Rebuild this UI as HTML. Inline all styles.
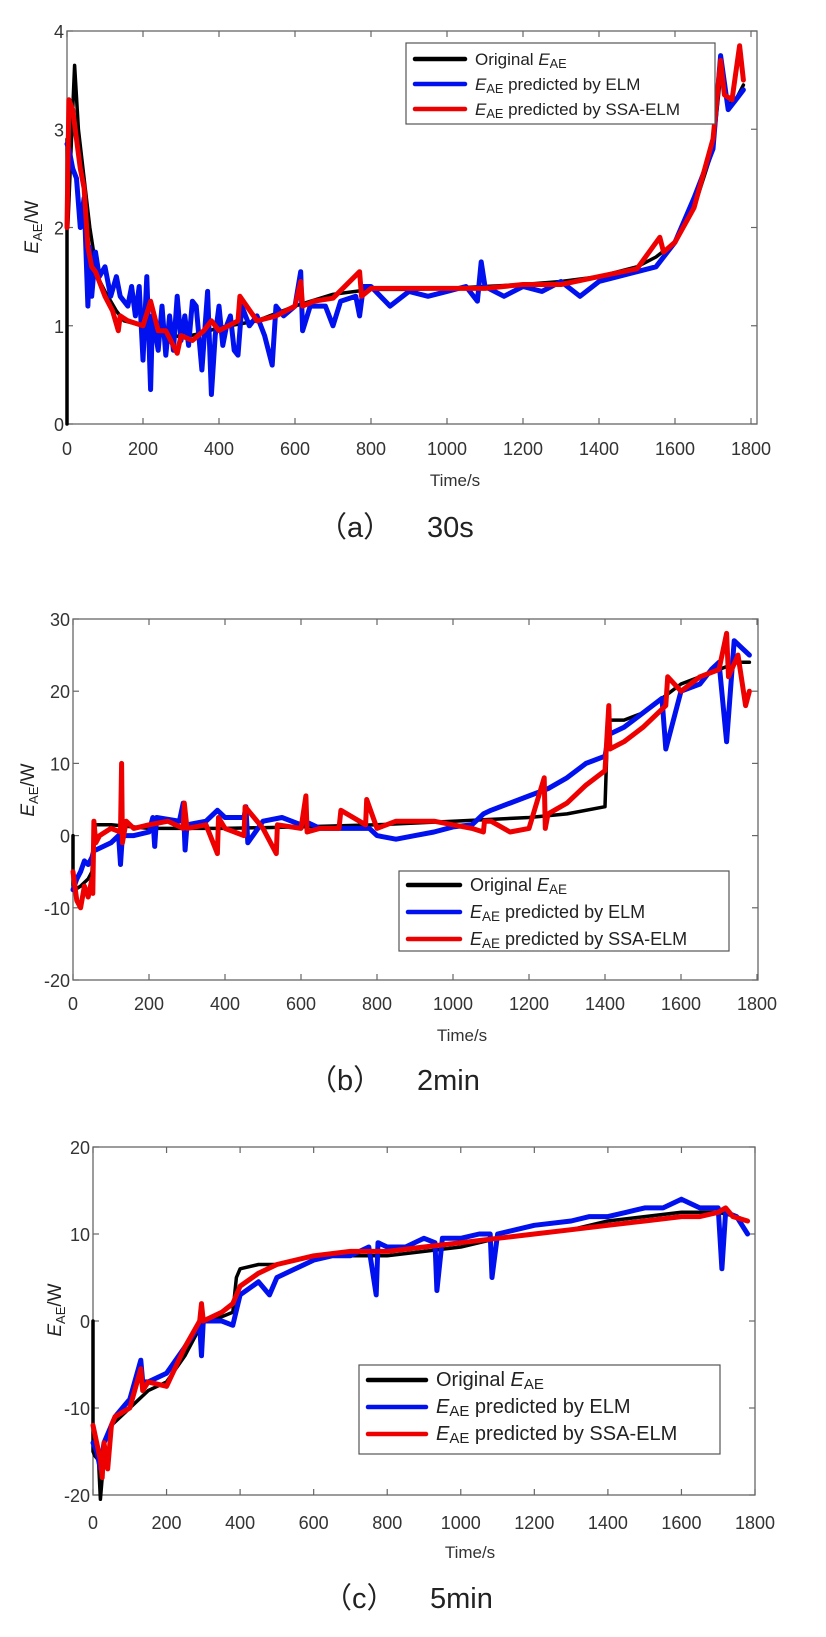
<!DOCTYPE html>
<html><head><meta charset="utf-8"><style>
html,body{margin:0;padding:0;background:#fff;}
svg{display:block;font-family:"Liberation Sans",Arial,sans-serif;}
.tk{font-size:18px;fill:#333;}
.cap{font-family:"Liberation Sans","Noto Sans CJK SC",sans-serif;font-size:29px;fill:#222;}
</style></head><body>
<svg id="root" width="826" height="1637" viewBox="0 0 826 1637" xmlns="http://www.w3.org/2000/svg"></svg>
<script>
// ---------- Chart A (30s) ----------
const xTicks = [0,200,400,600,800,1000,1200,1400,1600,1800];
const yTicksA = [0,1,2,3,4];
const tBlackA = [0,0,2,20,30,45,60,80,100,130,150,200,250,300,350,400,500,600,700,800,900,1000,1100,1200,1300,1400,1500,1550,1600,1650,1700,1720,1740,1760,1780];
const vBlackA = [0,2.9,2.0,3.65,3.0,2.5,2.0,1.5,1.35,1.15,1.05,1.0,0.95,0.88,0.92,0.98,1.05,1.2,1.32,1.37,1.37,1.38,1.4,1.42,1.45,1.5,1.6,1.7,1.85,2.2,2.8,3.55,3.25,3.3,3.45];
const tBlueA = [0,5,15,25,35,45,55,60,65,75,85,100,115,130,140,160,170,180,190,200,210,220,225,240,250,260,270,280,290,300,310,320,330,340,355,370,380,390,400,410,420,430,440,450,460,480,500,520,540,550,570,600,615,620,640,680,700,720,760,770,780,800,850,900,950,1000,1050,1080,1090,1100,1150,1200,1250,1300,1350,1400,1450,1500,1550,1600,1650,1700,1720,1740,1760,1780];
const vBlueA = [2.85,2.8,2.6,2.5,2.0,2.3,1.2,1.8,1.3,1.75,1.5,1.6,1.3,1.5,1.3,1.2,1.4,1.1,1.4,0.65,1.5,0.35,1.1,0.75,1.2,0.7,1.1,0.75,1.3,0.85,1.1,0.8,1.25,1.2,0.55,1.35,0.3,0.9,1.2,0.8,1.0,1.1,0.75,0.7,1.2,1.0,1.1,0.9,0.6,1.2,1.1,1.2,1.55,0.95,1.2,1.2,1.0,1.25,1.3,1.1,1.4,1.4,1.2,1.35,1.3,1.35,1.4,1.25,1.65,1.4,1.3,1.4,1.35,1.45,1.3,1.45,1.5,1.55,1.6,1.85,2.3,2.8,3.75,3.2,3.3,3.4];
const tRedA = [0,5,15,25,35,45,55,65,75,90,100,120,135,140,160,200,220,240,260,290,300,330,360,380,400,450,455,500,550,600,615,620,650,700,770,775,800,900,1000,1100,1200,1300,1400,1500,1560,1570,1600,1650,1700,1720,1730,1750,1770,1780];
const vRedA = [2.0,3.3,3.2,2.9,2.6,2.4,1.8,1.6,1.55,1.4,1.3,1.15,0.95,1.1,1.05,1.0,1.25,0.95,0.95,0.72,0.9,0.85,0.95,1.05,0.95,1.05,1.3,1.05,1.1,1.2,1.45,1.2,1.25,1.28,1.55,1.3,1.38,1.38,1.38,1.38,1.42,1.42,1.5,1.58,1.9,1.75,1.85,2.2,2.9,3.7,3.35,3.3,3.85,3.5];
// ---------- Chart B (2min) ----------
const yTicksB = [-20,-10,0,10,20,30];
const tBlackB = [0,0,5,20,40,50,55,60,70,100,200,300,400,600,800,1000,1200,1300,1400,1405,1410,1450,1500,1550,1600,1650,1700,1750,1780];
const vBlackB = [0,-7,-7.5,-7,-6,-5,1,1.5,1.5,1.5,1,1,1,1.2,1.5,2,2.5,3,4,12,16,16,17,19,21,22,23,24,24];
const tBlueB = [0,10,20,30,40,50,55,60,80,100,120,125,130,140,160,200,210,215,220,280,290,295,300,350,380,400,450,455,460,500,550,600,610,650,700,780,800,850,900,950,1000,1050,1080,1100,1150,1200,1250,1300,1350,1400,1410,1450,1500,1550,1560,1600,1650,1680,1700,1720,1740,1760,1780];
const vBlueB = [-7.5,-6,-5,-3.5,-4,-3,-2,-2,-1.5,-1,0,-4,0,0,0,0.5,2.5,-1.5,2.5,2,4.5,-2,1.5,2,3.5,2.5,2.5,4,-1,2,2.5,1.5,2,1,1,1,0,-0.5,0,0.5,1.2,1.5,3,3.5,4.5,5.5,6.5,8,10,11,14,15,17,19,12,20,21,23,24,13,27,26,25];
const tRedB = [0,10,20,30,40,50,52,55,60,70,100,125,128,130,140,160,200,250,290,293,300,350,380,383,400,450,453,500,535,538,600,613,616,650,700,705,770,773,800,850,900,950,1000,1050,1080,1083,1100,1150,1200,1240,1243,1250,1300,1350,1400,1410,1413,1450,1500,1560,1565,1600,1650,1700,1720,1725,1750,1770,1780];
const vRedB = [-5,-9,-10,-7,-8.5,-6,-8,2,-1,0,1,0.5,10,-1,2,1,1.5,2,1,4.5,1,1.5,-2.5,2.5,1,0,4,1,-2.5,1.5,1,5.5,0.5,1,1,3.5,1.5,5,1,2,2,2,1.5,1,0.5,2,2,0.5,1,8,1,3,4.5,7,9,18,12,13,15,18,22,20,22,23,28,22,25,18,20];
// ---------- Chart C (5min) ----------
const yTicksC = [-20,-10,0,10,20];
const tBlackC = [0,0,5,15,20,25,30,50,100,150,200,250,300,350,380,390,400,450,500,600,700,800,900,1000,1100,1200,1300,1400,1500,1600,1700,1750,1780];
const vBlackC = [0,-15,-15.5,-16,-20.5,-18,-14,-12,-10,-8,-7,-4,0,0.5,1,5,6,6.5,6.5,7.5,7.5,7.5,8,8.5,9.5,10,10.5,11.5,12,12.5,12.5,12,11.5];
const tBlueC = [0,10,20,30,40,60,80,100,130,135,150,200,250,290,295,300,350,380,400,450,480,500,550,600,650,700,750,770,775,800,850,900,930,935,950,1000,1050,1080,1085,1100,1150,1200,1300,1350,1400,1450,1500,1550,1600,1650,1700,1710,1720,1750,1780];
const vBlueC = [-14,-15,-17,-14,-13,-11,-10,-9,-4.5,-7,-7,-6,-3,-0.5,-4,0,0,-0.5,3,4.5,3,5,6,7,7.5,7.5,8.5,3,9,8.5,8.5,9.5,9,3.5,9.5,9.5,10,10,5,10,10.5,11,11.5,12,12,12.5,13,13,14,13,13,6,12.5,12,10];
const tRedC = [0,10,20,25,30,40,50,60,80,100,130,135,150,200,250,290,295,300,350,380,400,450,500,600,700,800,900,1000,1100,1200,1300,1400,1500,1600,1650,1700,1720,1740,1780];
const vRedC = [-12,-14,-16,-18,-14,-17,-12,-11,-10.5,-10,-5.5,-8,-7,-7.5,-3,0,2,0,1,2,4,5.5,6.5,7.5,8,8,8.5,9,9.5,10,10.5,11,11.5,12,12,12.5,13,12,11.5];

const NS = "http://www.w3.org/2000/svg";
const root = document.getElementById('root');
function mk(tag, attrs, parent){
  const e = document.createElementNS(NS, tag);
  for (const k in attrs) e.setAttribute(k, attrs[k]);
  (parent||root).appendChild(e); return e;
}
function drawChart(id, box, yMin, yMax, yTicks, series, leg, lab){
  const g = mk('g', {});
  
  
  const xs = v => box.x0 + (v/1800)*(box.x1800 - box.x0);
  const ys = v => box.bot - (v - yMin)/(yMax - yMin)*(box.bot - box.top);
  const fr = mk('rect', {x:box.l, y:box.top, width:box.r-box.l, height:box.bot-box.top, fill:'#fff', stroke:'#666', 'stroke-width':1.3}, g);
  
  
  xTicks.forEach(t => {
    const x = xs(t);
    mk('line', {x1:x, x2:x, y1:box.bot, y2:box.bot-6, stroke:'#666', 'stroke-width':1.2}, g);
    mk('line', {x1:x, x2:x, y1:box.top, y2:box.top+6, stroke:'#666', 'stroke-width':1.2}, g);
    const tx = mk('text', {x:x, y:lab.ty, 'text-anchor':'middle', class:'tk'}, g);
    tx.textContent = t;
    
    
  });
  yTicks.forEach(t => {
    const y = ys(t);
    mk('line', {x1:box.l, x2:box.l+6, y1:y, y2:y, stroke:'#666', 'stroke-width':1.2}, g);
    mk('line', {x1:box.r, x2:box.r-6, y1:y, y2:y, stroke:'#666', 'stroke-width':1.2}, g);
    const tx = mk('text', {x:box.l-3, y:y+7, 'text-anchor':'end', class:'tk'}, g);
    tx.textContent = t;
    
    
  });
  series.forEach(s => {
    let d = '';
    s.t.forEach((t,i) => { d += (i?'L':'M') + xs(t).toFixed(1) + ',' + ys(s.v[i]).toFixed(1); });
    const p = mk('path', {d:d, fill:'none', stroke:s.c, 'stroke-width':s.w, 'stroke-linejoin':'round', 'stroke-linecap':'round'}, g);
    
    
  });
  const xl = mk('text', {x:lab.xx, y:lab.xy, 'text-anchor':'middle', 'font-size':17, fill:'#333'}, g);
  xl.textContent = 'Time/s';
  
  
  const yl = mk('text', {x:0, y:0, 'text-anchor':'middle', 'font-size':19, fill:'#222', transform:'translate('+lab.yx+','+lab.yy+') rotate(-90)'}, g);
  yl.innerHTML = '<tspan font-style="italic">E</tspan><tspan font-size="13" dy="4">AE</tspan><tspan dy="-4">/W</tspan>';
  
  
  const lg = mk('g', {}, g);
  
  
  mk('rect', {x:leg.x, y:leg.y, width:leg.w, height:leg.h, fill:'#fff', stroke:'#555', 'stroke-width':1.2}, lg);
  const labels = [
    'Original <tspan font-style="italic">E</tspan><tspan font-size="0.75em" dy="3">AE</tspan>',
    '<tspan font-style="italic">E</tspan><tspan font-size="0.75em" dy="3">AE</tspan><tspan dy="-3"> predicted by ELM</tspan>',
    '<tspan font-style="italic">E</tspan><tspan font-size="0.75em" dy="3">AE</tspan><tspan dy="-3"> predicted by SSA-ELM</tspan>'];
  const cols = ['#000','#0010ee','#ee0000'];
  labels.forEach((L,i) => {
    const y = leg.y + leg.p + i*leg.dy;
    const ln = mk('line', {x1:leg.x+9, x2:leg.x+9+leg.ll, y1:y, y2:y, stroke:cols[i], 'stroke-width':4.5, 'stroke-linecap':'round'}, lg);
    
    
    const tx = mk('text', {x:leg.x+leg.ll+19, y:y+6, 'font-size':leg.fs, fill:'#222'}, lg);
    tx.innerHTML = L;
    
    
  });
}
function caption(lbl, val, x1, x2, y, name){
  const g = mk('g', {});
  
  
  const a = mk('text', {x:x1, y:y, class:'cap'}, g); a.textContent = lbl;
  const b = mk('text', {x:x2, y:y, class:'cap'}, g); b.textContent = val;
}
const S = (t,v,c,w,n) => ({t:t,v:v,c:c,w:w,name:n});
drawChart('a', {l:67,r:757,top:31,bot:424,x0:67,x1800:751}, 0, 4, yTicksA,
  [S(tBlackA,vBlackA,'#000',3.5,'series-original'), S(tBlueA,vBlueA,'#0010ee',5,'series-elm'), S(tRedA,vRedA,'#ee0000',5,'series-ssa-elm')],
  {x:406,y:43,w:309,h:81,p:16,dy:25,ll:50,fs:17}, {ty:455,xx:455,xy:486,yx:38,yy:227});
drawChart('b', {l:73,r:758,top:619,bot:980,x0:73,x1800:757}, -20, 30, yTicksB,
  [S(tBlackB,vBlackB,'#000',3.5,'series-original'), S(tBlueB,vBlueB,'#0010ee',5,'series-elm'), S(tRedB,vRedB,'#ee0000',5,'series-ssa-elm')],
  {x:399,y:871,w:330,h:80,p:14,dy:27,ll:52,fs:18}, {ty:1010,xx:462,xy:1041,yx:34,yy:790});
drawChart('c', {l:93,r:755,top:1147,bot:1495,x0:93,x1800:755}, -20, 20, yTicksC,
  [S(tBlackC,vBlackC,'#000',3.5,'series-original'), S(tBlueC,vBlueC,'#0010ee',5,'series-elm'), S(tRedC,vRedC,'#ee0000',5,'series-ssa-elm')],
  {x:359,y:1365,w:361,h:89,p:15,dy:27,ll:58,fs:20}, {ty:1529,xx:470,xy:1558,yx:61,yy:1310});
caption('（a）', '30s', 318, 427, 537, 'caption-a');
caption('（b）', '2min', 308, 417, 1090, 'caption-b');
caption('（c）', '5min', 323, 430, 1608, 'caption-c');
</script>
</body></html>
